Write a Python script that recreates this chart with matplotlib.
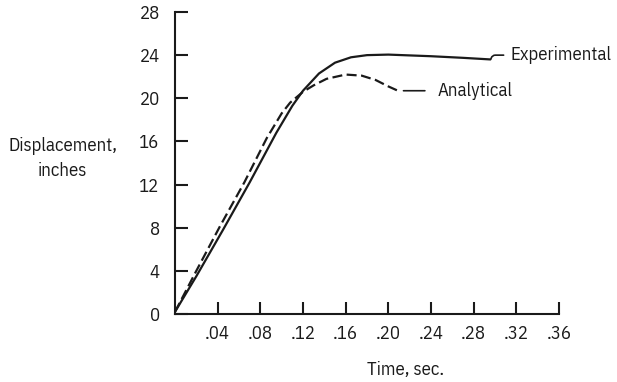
import matplotlib
matplotlib.use('Agg')
from matplotlib import pyplot as plt

# values (time in sec, displacement in inches)
exp_t = [0, 0.02, 0.045, 0.07, 0.095, 0.11, 0.12, 0.135, 0.15, 0.165, 0.18, 0.20, 0.24, 0.27, 0.296]
exp_v = [0.2, 3.5, 7.8, 12.2, 16.8, 19.3, 20.7, 22.3, 23.3, 23.8, 24.0, 24.05, 23.9, 23.75, 23.6]

ana_t = [0, 0.02, 0.042, 0.065, 0.086, 0.10, 0.108, 0.12, 0.13, 0.142, 0.16, 0.175, 0.188, 0.20, 0.209]
ana_v = [0.2, 4.0, 8.1, 12.2, 16.3, 18.6, 19.6, 20.6, 21.2, 21.8, 22.2, 22.1, 21.7, 21.1, 20.7]

x_ticks = [0.04, 0.08, 0.12, 0.16, 0.20, 0.24, 0.28, 0.32, 0.36]
x_labels = ['.04', '.08', '.12', '.16', '.20', '.24', '.28', '.32', '.36']
y_ticks = [0, 4, 8, 12, 16, 20, 24, 28]

plt.rcParams['font.family'] = ['IBM Plex Sans Condensed', 'DejaVu Sans']
ink = '#1a1a1a'
fs = 13.5

fig = plt.figure(figsize=(6.17, 3.82), dpi=100)
ax = fig.add_axes([0.2836, 0.178, 0.6224, 0.7906])

ax.plot(exp_t, exp_v, color=ink, lw=1.6, solid_capstyle='butt', clip_on=False)
ax.plot(ana_t, ana_v, color=ink, lw=1.6, dashes=(4.5, 2.0), clip_on=False)

ax.set_xlim(0, 0.36)
ax.set_ylim(0, 28)
ax.set_xticks(x_ticks)
ax.set_xticklabels(x_labels)
ax.set_yticks(y_ticks)
ax.set_yticklabels([str(v) for v in y_ticks])

for s in ['top', 'right']:
    ax.spines[s].set_visible(False)
for s in ['left', 'bottom']:
    ax.spines[s].set_linewidth(1.5)
    ax.spines[s].set_color(ink)
ax.tick_params(direction='in', length=9, width=1.5, color=ink,
               labelsize=fs, labelcolor=ink)
ax.tick_params(axis='x', pad=8)
ax.tick_params(axis='y', pad=11)

ax.annotate('Experimental', xy=(exp_t[-1], exp_v[-1]), xytext=(0.3146, 24.0),
            va='center', ha='left', fontsize=fs, color=ink,
            arrowprops=dict(arrowstyle='-', color=ink, lw=1.2, relpos=(0, 0.5),
                            shrinkA=3, shrinkB=0,
                            connectionstyle='angle,angleA=0,angleB=70,rad=3'))
ax.annotate('Analytical', xy=(ana_t[-1], ana_v[-1]), xytext=(0.246, 20.7),
            va='center', ha='left', fontsize=fs, color=ink,
            arrowprops=dict(arrowstyle='-', color=ink, lw=1.2, relpos=(0, 0.5),
                            shrinkA=7, shrinkB=4))

ax.text(0.216, -0.185, 'Time, sec.', transform=ax.get_xaxis_transform(),
        ha='center', va='center', fontsize=fs, color=ink)
fig.text(0.102, 0.584, 'Displacement,\ninches', ha='center', va='center',
         fontsize=fs, color=ink, linespacing=1.5)

fig.savefig('out.png', dpi=100)
